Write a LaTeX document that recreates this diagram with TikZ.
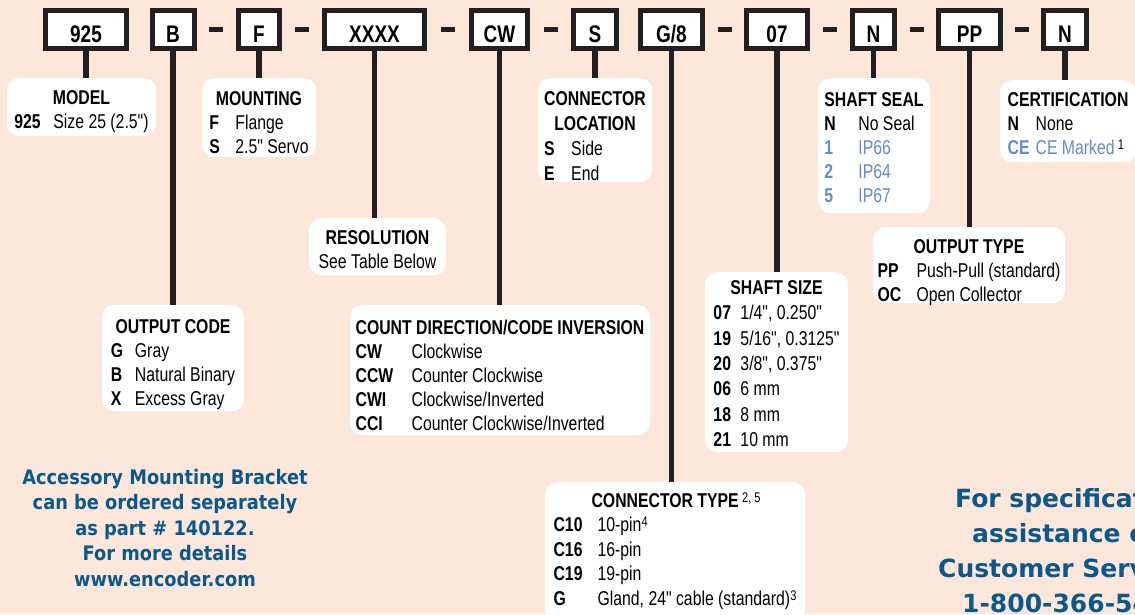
\documentclass[tikz,border=0pt]{standalone}
\usepackage{fontspec}
\newfontfamily\condfont[FakeStretch=0.79]{Liberation Sans}
\newfontfamily\notefont[FakeStretch=0.89]{DejaVu Sans}
\newfontfamily\callfont{DejaVu Sans}
\definecolor{peach}{RGB}{253, 231, 219}
\definecolor{inkblack}{RGB}{35, 31, 32}
\definecolor{noteblue}{RGB}{10, 88, 140}
\definecolor{optblue}{RGB}{100, 140, 200}
\usetikzlibrary{calc}
\newcommand{\supnote}[1]{\raisebox{5pt}{\mdseries\fontsize{14}{14}\selectfont #1}}

\tikzset{
  codebox/.style={draw=inkblack, line width=5pt, fill=white, minimum height=38pt, inner sep=0pt,
    text height=25pt, text depth=0pt, font=\condfont\bfseries\fontsize{24}{24}\selectfont},
  infobox/.style={fill=white, rounded corners=12pt, inner sep=0pt, anchor=north,
    text height=26pt, font=\condfont\fontsize{20}{24}\selectfont},
  leadline/.style={draw=inkblack, line width=5.5pt},
  dashbar/.style={draw=inkblack, line width=5.5pt},
  notetext/.style={text=noteblue, inner sep=0pt, font=\notefont\bfseries\fontsize{20}{25.5}\selectfont},
  calltext/.style={text=noteblue, inner sep=0pt, anchor=base west, font=\callfont\bfseries\fontsize{25}{35}\selectfont}
}

\begin{document}
\begin{tikzpicture}[x=1pt, y=-1pt]
  \useasboundingbox (0,0) rectangle (1135,614);
  \clip (0,0) rectangle (1135,614);
  \fill[peach] (0,0) rectangle (1135,614);

  % Part number
  \node[codebox, minimum width=81pt] (pnModel) at (86,29.5) {925};
  \node[codebox, minimum width=42pt] (pnCode) at (173,29.5) {B};
  \node[codebox, minimum width=41pt] (pnMount) at (259,29.5) {F};
  \node[codebox, minimum width=100pt] (pnRes) at (374.5,29.5) {XXXX};
  \node[codebox, minimum width=56pt] (pnDir) at (499.5,29.5) {CW};
  \node[codebox, minimum width=43pt] (pnLoc) at (595,29.5) {S};
  \node[codebox, minimum width=62pt] (pnType) at (671.5,29.5) {G/8};
  \node[codebox, minimum width=61pt] (pnSize) at (777,29.5) {07};
  \node[codebox, minimum width=42pt] (pnSeal) at (873.5,29.5) {N};
  \node[codebox, minimum width=62pt] (pnOut) at (969.5,29.5) {PP};
  \node[codebox, minimum width=43pt] (pnCert) at (1065,29.5) {N};

  \foreach \a/\b in {pnCode/pnMount, pnMount/pnRes, pnRes/pnDir, pnDir/pnLoc,
                     pnType/pnSize, pnSize/pnSeal, pnSeal/pnOut, pnOut/pnCert}
    \draw[dashbar] ($(\a.east)!0.5!(\b.west)$) ++(-7,0) -- ++(14,0);

  % Upper row of option boxes
  \node[infobox, minimum width=149pt, text depth=32pt] (model) at (81.5,78) {
    \begin{tabular}[t]{@{}p{39pt}@{}l@{}}
      \multicolumn{2}{@{}c@{}}{\bfseries MODEL}\\
      \bfseries 925 & Size 25 (2.5")
    \end{tabular}
  };

  \node[infobox, minimum width=114pt, text height=27pt, text depth=52pt] (mounting) at (259,78) {
    \begin{tabular}[t]{@{}p{26pt}@{}l@{}}
      \multicolumn{2}{@{}c@{}}{\bfseries MOUNTING}\\
      \bfseries F & Flange\\
      \bfseries S & 2.5" Servo
    \end{tabular}
  };

  \node[infobox, minimum width=114pt, text height=27pt, text depth=77pt] (location) at (595,78) {
    \renewcommand{\arraystretch}{1.04}%
    \begin{tabular}[t]{@{}p{27pt}@{}l@{}}
      \multicolumn{2}{@{}c@{}}{\bfseries CONNECTOR}\\
      \multicolumn{2}{@{}c@{}}{\bfseries LOCATION}\\
      \bfseries S & Side\\
      \bfseries E & End
    \end{tabular}
  };

  \node[infobox, minimum width=112pt, text height=28pt, text depth=107pt] (shaftseal) at (874,78) {
    \begin{tabular}[t]{@{}p{34pt}@{}l@{}}
      \multicolumn{2}{@{}c@{}}{\bfseries SHAFT SEAL}\\
      \bfseries N & No Seal\\
      \textcolor{optblue}{\bfseries 1} & \textcolor{optblue}{IP66}\\
      \textcolor{optblue}{\bfseries 2} & \textcolor{optblue}{IP64}\\
      \textcolor{optblue}{\bfseries 5} & \textcolor{optblue}{IP67}
    \end{tabular}
  };

  \node[infobox, minimum width=136pt, text depth=56pt] (certif) at (1068,80) {
    \begin{tabular}[t]{@{}p{28pt}@{}l@{}}
      \multicolumn{2}{@{}c@{}}{\bfseries CERTIFICATION}\\
      \bfseries N & None\\
      \textcolor{optblue}{\bfseries CE} & \textcolor{optblue}{CE Marked}\,\supnote{1}
    \end{tabular}
  };

  % Lower option boxes
  \node[infobox, minimum width=137pt, text depth=31pt] (resolution) at (377.5,218) {
    \begin{tabular}[t]{@{}c@{}}
      \bfseries RESOLUTION\\
      See Table Below
    \end{tabular}
  };

  \node[infobox, minimum width=192pt, text depth=50pt] (outtype) at (969,227) {
    \begin{tabular}[t]{@{}p{39pt}@{}l@{}}
      \multicolumn{2}{@{}c@{}}{\bfseries OUTPUT TYPE}\\
      \bfseries PP & Push-Pull (standard)\\
      \bfseries OC & Open Collector
    \end{tabular}
  };

  \node[infobox, minimum width=143pt, text height=22pt, text depth=158pt] (shaftsize) at (776.5,272) {
    \renewcommand{\arraystretch}{1.06}%
    \begin{tabular}[t]{@{}p{27pt}@{}l@{}}
      \multicolumn{2}{@{}c@{}}{\bfseries SHAFT SIZE}\\
      \bfseries 07 & 1/4", 0.250"\\
      \bfseries 19 & 5/16", 0.3125"\\
      \bfseries 20 & 3/8", 0.375"\\
      \bfseries 06 & 6 mm\\
      \bfseries 18 & 8 mm\\
      \bfseries 21 & 10 mm
    \end{tabular}
  };

  \node[infobox, minimum width=142pt, text height=28pt, text depth=78pt] (outcode) at (173,305) {
    \begin{tabular}[t]{@{}p{24pt}@{}l@{}}
      \multicolumn{2}{@{}c@{}}{\bfseries OUTPUT CODE}\\
      \bfseries G & Gray\\
      \bfseries B & Natural Binary\\
      \bfseries X & Excess Gray
    \end{tabular}
  };

  \node[infobox, minimum width=300pt, text height=29pt, text depth=101pt] (direction) at (500,305) {
    \begin{tabular}[t]{@{}p{56pt}@{}l@{}}
      \multicolumn{2}{@{}c@{}}{\bfseries COUNT DIRECTION/CODE INVERSION}\\
      \bfseries CW & Clockwise\\
      \bfseries CCW & Counter Clockwise\\
      \bfseries CWI & Clockwise/Inverted\\
      \bfseries CCI & Counter Clockwise/Inverted
    \end{tabular}
  };

  \node[infobox, minimum width=260pt, text height=25pt, text depth=115pt] (conntype) at (675,482) {
    \renewcommand{\arraystretch}{1.02}%
    \begin{tabular}[t]{@{}p{44pt}@{}l@{}}
      \multicolumn{2}{@{\hspace{38pt}}l@{}}{\bfseries CONNECTOR TYPE\,\supnote{2, 5}}\\
      \bfseries C10 & 10-pin\supnote{4}\\
      \bfseries C16 & 16-pin\\
      \bfseries C19 & 19-pin\\
      \bfseries G & Gland, 24" cable (standard)\supnote{3}
    \end{tabular}
  };

  % Leads from the part number to the boxes
  \foreach \a/\b in {pnModel/model, pnCode/outcode, pnMount/mounting, pnRes/resolution,
                     pnDir/direction, pnLoc/location, pnType/conntype, pnSize/shaftsize,
                     pnSeal/shaftseal, pnOut/outtype, pnCert/certif}
    \draw[leadline] (\a.south) -- (\a.south |- \b.north);

  % Notes
  \node[notetext, align=center, anchor=north] (bracketnote) at (165,469) {
    Accessory Mounting Bracket\\can be ordered separately\\as part \# 140122.\\For more details\\www.encoder.com
  };

  \node[calltext] (callnote1) at (955,507) {For specifications or};
  \node[calltext] (callnote2) at (972,542) {assistance call};
  \node[calltext] (callnote3) at (938,577) {Customer Service};
  \node[calltext] (callnote4) at (962,612) {1-800-366-5412};
\end{tikzpicture}
\end{document}
